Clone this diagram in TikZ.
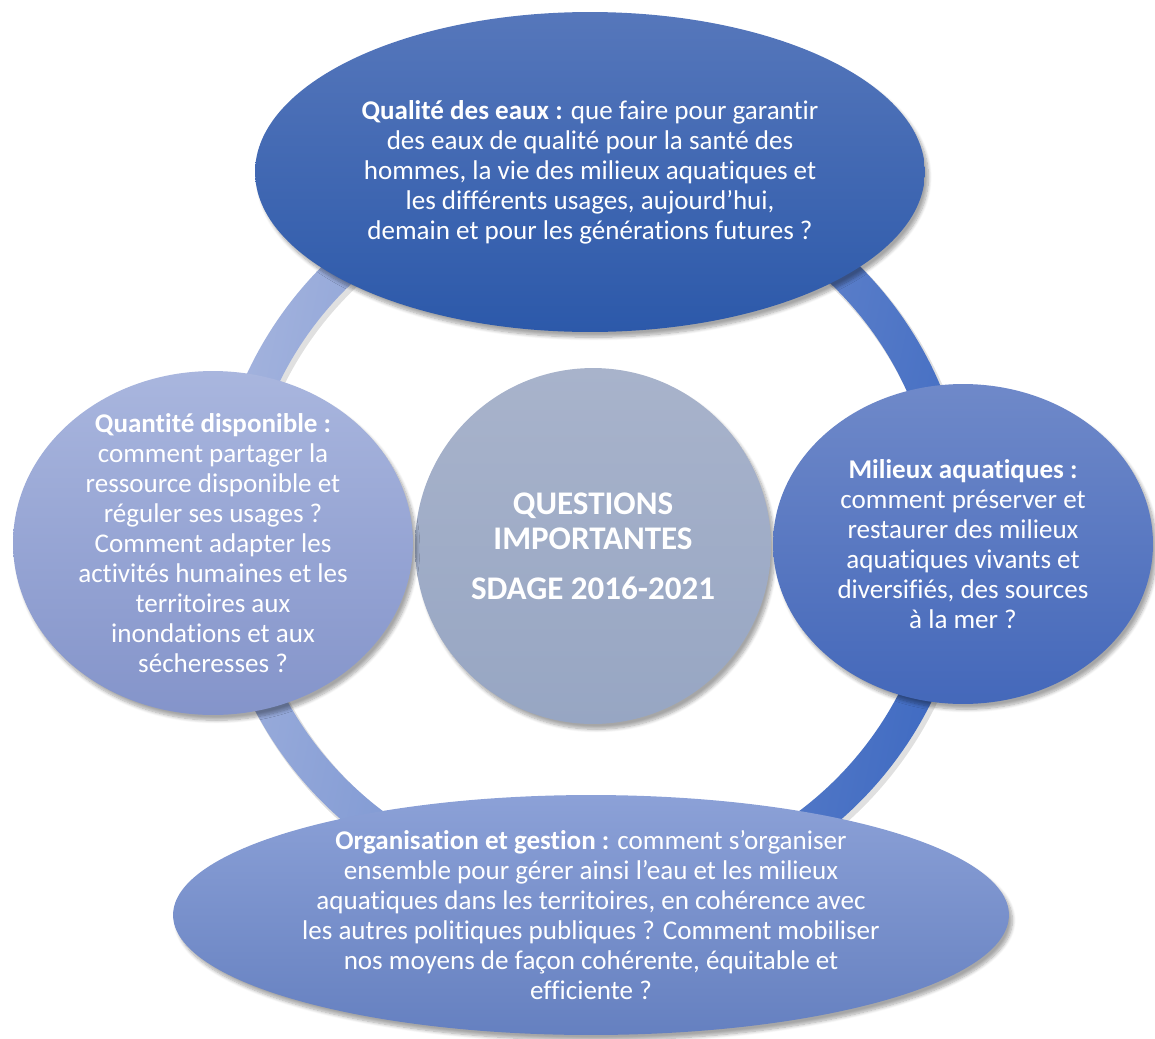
\documentclass[tikz,border=0pt]{standalone}
\usepackage{fontspec}
\setmainfont{Carlito}[Ligatures=NoCommon]
\usetikzlibrary{shapes.geometric,shadows.blur}
\definecolor{ringlight}{HTML}{A2B2DD}
\definecolor{ringdark}{HTML}{406BC2}
\definecolor{qualtop}{HTML}{5677BB}
\definecolor{qualbot}{HTML}{2C59AA}
\definecolor{quanttop}{HTML}{A9B6DE}
\definecolor{quantbot}{HTML}{8494CA}
\definecolor{milieuxtop}{HTML}{6F89C9}
\definecolor{milieuxbot}{HTML}{4468BA}
\definecolor{orgatop}{HTML}{8CA1D7}
\definecolor{orgabot}{HTML}{6580C0}
\definecolor{hubtop}{HTML}{A8B3CB}
\definecolor{hubbot}{HTML}{97A6C3}
\newcommand{\bubblefont}{\fontsize{15.4}{17.1}\selectfont}
\newcommand{\hubfont}{\fontsize{18.8}{19.9}\selectfont\bfseries}

\begin{document}
\begin{tikzpicture}[x=0.02cm, y=-0.02cm,
  bubble/.style 2 args={ellipse, inner sep=-2cm, top color=#1, bottom color=#2,
    text=white, align=center, font=\bubblefont,
    blur shadow={shadow xshift=2pt, shadow yshift=-3pt, shadow blur steps=8, shadow opacity=35}}]
\useasboundingbox (0,0) rectangle (1155,1038);
\coordinate (ringc) at (591,534);
% ring behind the bubbles, with its shadow
\draw[black, opacity=0.12, line width=0.7cm] ([shift={(3,4)}]ringc) circle[radius=363];
\shade[even odd rule, top color=ringlight, bottom color=ringdark, shading angle=78]
  (ringc) circle[radius=379.5] (ringc) circle[radius=346.5];
% centre
\node[bubble={hubtop}{hubbot}, circle, minimum size=7.12cm, font=\hubfont] (hub) at (593,546)
  {QUESTIONS\\IMPORTANTES\\[0.3cm]SDAGE 2016-2021};
% the four questions
\node[bubble={quanttop}{quantbot}, minimum width=8cm, minimum height=6.88cm] (quant) at (213,543)
  {\textbf{Quantité disponible :}\\comment partager la\\ressource disponible et\\réguler ses usages ?\\Comment adapter les\\activités humaines et les\\territoires aux\\inondations et aux\\sécheresses ?};
\node[bubble={milieuxtop}{milieuxbot}, minimum width=7.6cm, minimum height=6.4cm] (milieux) at (963,544)
  {\textbf{Milieux aquatiques :}\\comment préserver et\\restaurer des milieux\\aquatiques vivants et\\diversifiés, des sources\\à la mer ?};
\node[bubble={qualtop}{qualbot}, minimum width=13.4cm, minimum height=6.4cm] (qual) at (590,172)
  {\textbf{Qualité des eaux :} que faire pour garantir\\des eaux de qualité pour la santé des\\hommes, la vie des milieux aquatiques et\\les différents usages, aujourd’hui,\\demain et pour les générations futures ?};
\node[bubble={orgatop}{orgabot}, minimum width=16.72cm, minimum height=4.8cm] (orga) at (591,915)
  {\textbf{Organisation et gestion :} comment s’organiser\\ensemble pour gérer ainsi l’eau et les milieux\\aquatiques dans les territoires, en cohérence avec\\les autres politiques publiques ? Comment mobiliser\\nos moyens de façon cohérente, équitable et\\efficiente ?};
\end{tikzpicture}
\end{document}
